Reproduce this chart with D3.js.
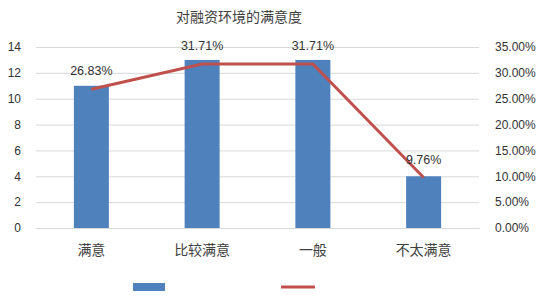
<!DOCTYPE html>
<html>
  <head>
    <meta charset="utf-8">
    <style>
      body { margin: 0; background: #fff; }
      text { font-family: "Liberation Sans", "Noto Sans CJK SC", sans-serif; }
    </style>
  </head>
  <body>
    <script src="https://d3js.org/d3.v7.min.js"></script>
    <script>
      var categories = ['满意', '比较满意', '一般', '不太满意'];
      var counts = [11, 13, 13, 4];
      var shares = [26.83, 31.71, 31.71, 9.76];
      var leftTicks = [0, 2, 4, 6, 8, 10, 12, 14];
      var rightTicks = [0, 5, 10, 15, 20, 25, 30, 35];

      var width = 547, height = 300;
      var plotLeft = 36, plotRight = 479, plotTop = 47, plotBottom = 228;

      var svg = d3.select('body').append('svg')
        .attr('width', width)
        .attr('height', height);

      var x = d3.scaleBand().domain(categories).range([plotLeft, plotRight]);
      var y = d3.scaleLinear().domain([0, 14]).range([plotBottom, plotTop]);
      var y2 = d3.scaleLinear().domain([0, 35]).range([plotBottom, plotTop]);

      // gridlines
      svg.append('g')
        .attr('transform', 'translate(' + plotLeft + ',0)')
        .call(d3.axisLeft(y).tickValues(leftTicks).tickSize(-(plotRight - plotLeft)).tickFormat(''))
        .call(function (g) {
          g.select('.domain').remove();
          g.selectAll('line').attr('stroke', '#d9d9d9');
        });

      // left axis labels
      svg.append('g')
        .attr('transform', 'translate(' + plotLeft + ',0)')
        .call(d3.axisLeft(y).tickValues(leftTicks).tickSize(0).tickPadding(15))
        .call(function (g) {
          g.select('.domain').remove();
          g.selectAll('text').attr('fill', '#333').style('font-size', '12px');
        });

      // right axis labels
      svg.append('g')
        .attr('transform', 'translate(' + plotRight + ',0)')
        .call(d3.axisRight(y2).tickValues(rightTicks).tickSize(0).tickPadding(16)
          .tickFormat(function (d) { return d.toFixed(2) + '%'; }))
        .call(function (g) {
          g.select('.domain').remove();
          g.selectAll('text').attr('fill', '#333').style('font-size', '12px');
        });

      // category axis
      svg.append('g')
        .attr('transform', 'translate(0,' + plotBottom + ')')
        .call(d3.axisBottom(x).tickSize(0).tickPadding(17))
        .call(function (g) {
          g.select('.domain').attr('stroke', '#d9d9d9');
          g.selectAll('text').attr('fill', '#404040').style('font-size', '14px');
        });

      var barW = 35;
      svg.selectAll('rect.bar')
        .data(counts)
        .enter().append('rect')
        .attr('class', 'bar')
        .attr('x', function (d, i) { return x(categories[i]) + x.bandwidth() / 2 - barW / 2; })
        .attr('y', function (d) { return y(d); })
        .attr('width', barW)
        .attr('height', function (d) { return plotBottom - y(d); })
        .attr('fill', '#4f81bd');

      var line = d3.line()
        .x(function (d, i) { return x(categories[i]) + x.bandwidth() / 2; })
        .y(function (d) { return y2(d); });

      svg.append('path')
        .datum(shares)
        .attr('d', line)
        .attr('fill', 'none')
        .attr('stroke', '#c0504d')
        .attr('stroke-width', 3);

      svg.selectAll('text.val')
        .data(shares)
        .enter().append('text')
        .attr('class', 'val')
        .attr('x', function (d, i) { return x(categories[i]) + x.bandwidth() / 2; })
        .attr('y', function (d) { return y2(d) - 14; })
        .attr('text-anchor', 'middle')
        .attr('fill', '#333')
        .style('font-size', '12.5px')
        .text(function (d) { return d.toFixed(2) + '%'; });

      svg.append('text')
        .attr('x', 239)
        .attr('y', 22)
        .attr('text-anchor', 'middle')
        .attr('fill', '#404040')
        .style('font-size', '14px')
        .text('对融资环境的满意度');

      // legend (series without names)
      svg.append('rect')
        .attr('x', 133).attr('y', 283)
        .attr('width', 32).attr('height', 8)
        .attr('fill', '#4f81bd');
      svg.append('line')
        .attr('x1', 281).attr('x2', 315)
        .attr('y1', 287).attr('y2', 287)
        .attr('stroke', '#c0504d')
        .attr('stroke-width', 3);
    </script>
  </body>
</html>
